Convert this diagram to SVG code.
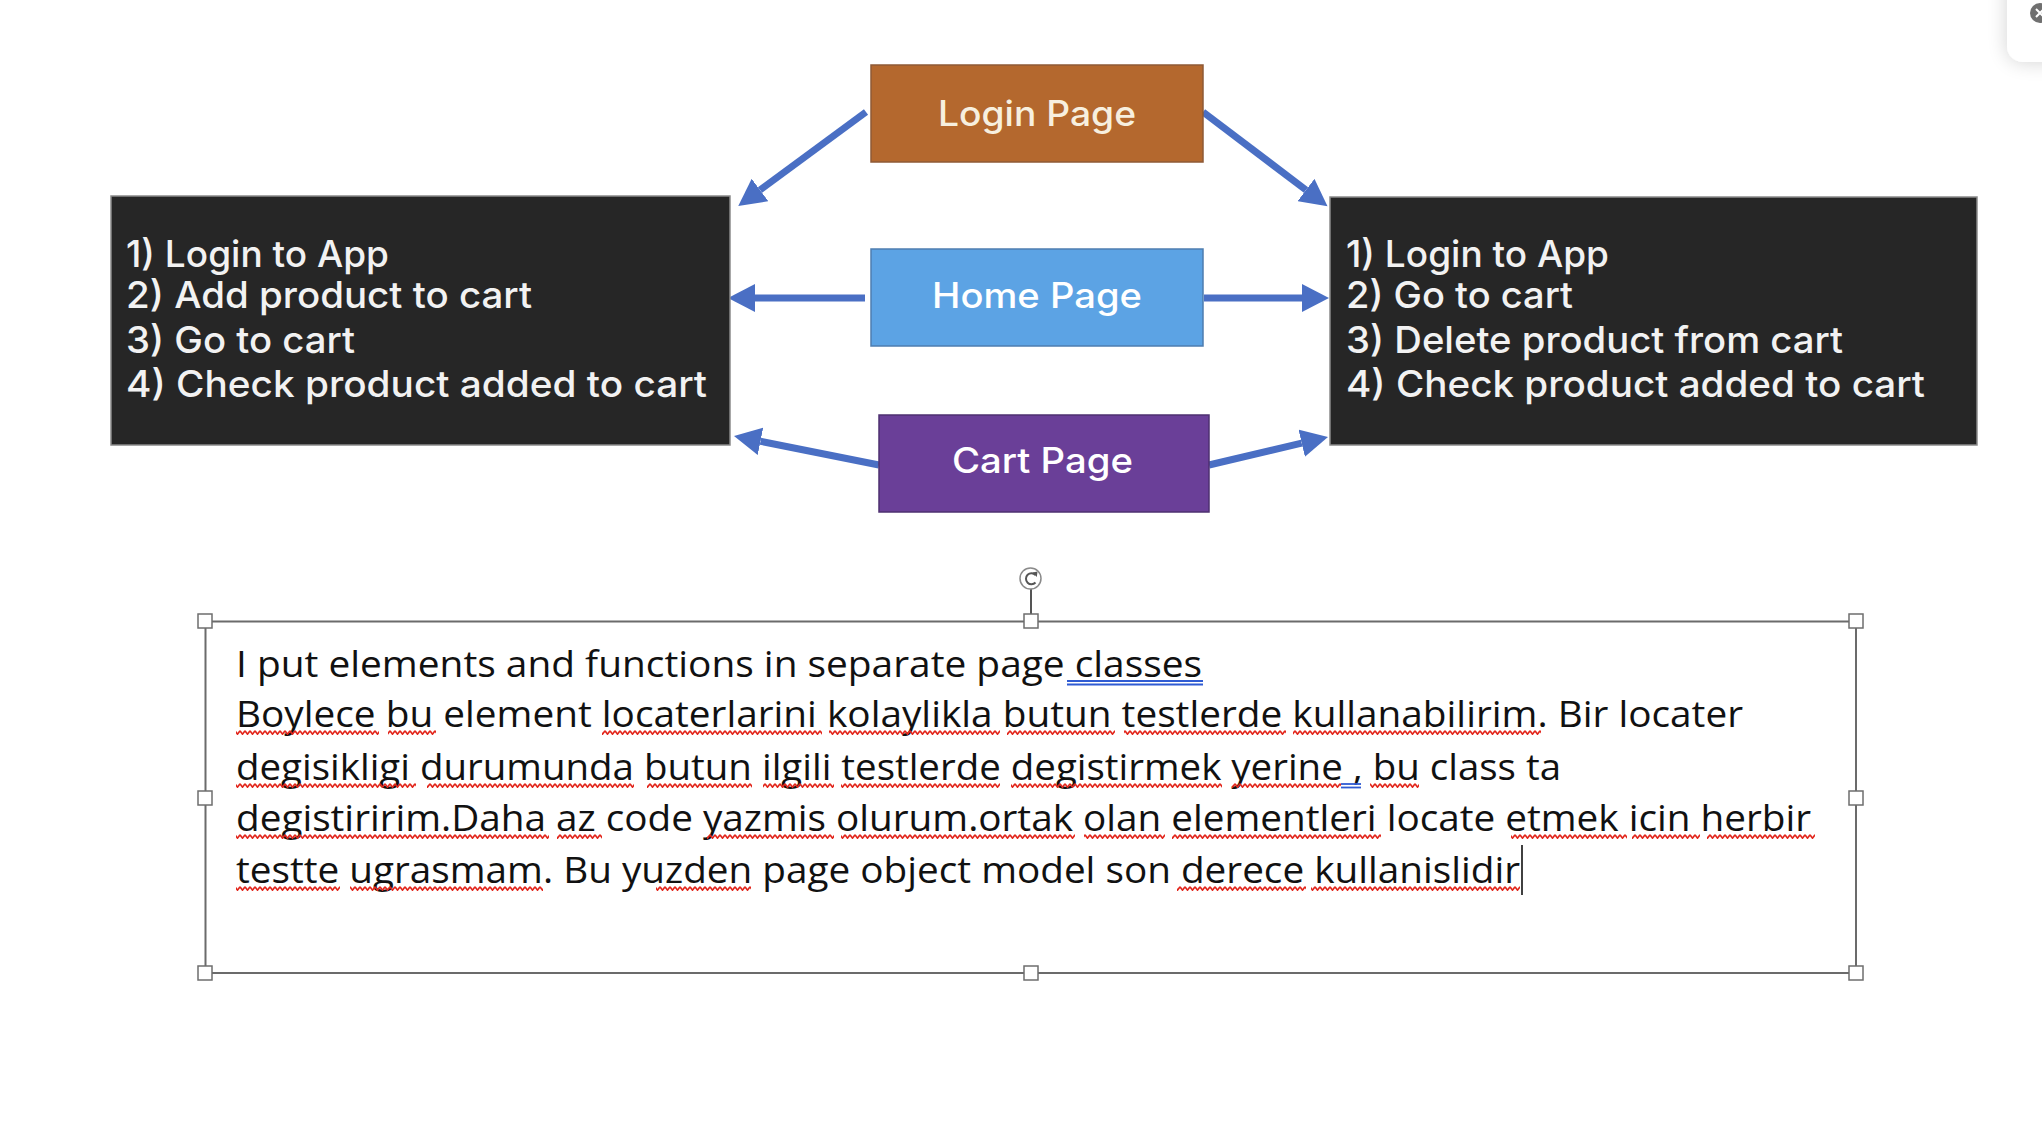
<svg xmlns="http://www.w3.org/2000/svg" width="2042" height="1128" viewBox="0 0 2042 1128">
  <style>
    .step { font-family: "Inter", "Open Sans", "Liberation Sans", sans-serif; font-size: 37px; font-weight: 500; fill: #F2F2F2; }
    .lbl { font-family: "Inter", "Open Sans", "Liberation Sans", sans-serif; font-size: 35px; font-weight: 500; fill: #FFFFFF; }
    .body { font-family: "Open Sans", "Liberation Sans", sans-serif; font-size: 37px; fill: #111111; }
    .conn { stroke: #4A6FC4; stroke-width: 7; fill: none; marker-end: url(#ah); }
    .dark { fill: #262626; stroke: #8A8A8A; stroke-width: 1.5; }
    .handle { fill: #FFFFFF; stroke: #6E6E6E; stroke-width: 1.5; }
  </style>
  <defs>
    <marker id="ah" viewBox="0 0 28 28" markerWidth="28" markerHeight="28" refX="0" refY="14" orient="auto" markerUnits="userSpaceOnUse">
      <path d="M0,0 L27,14 L0,28 Z" fill="#4A6FC4"/>
    </marker>
    <pattern id="wavy" patternUnits="userSpaceOnUse" width="5" height="5">
      <path d="M0,0.8 L2.5,4.2 L5,0.8" fill="none" stroke="#E2261C" stroke-width="1.6"/>
    </pattern>
    <filter id="sh" x="-100%" y="-100%" width="300%" height="300%">
      <feGaussianBlur in="SourceAlpha" stdDeviation="10"/>
      <feComponentTransfer><feFuncA type="linear" slope="0.18"/></feComponentTransfer>
      <feMerge><feMergeNode/><feMergeNode in="SourceGraphic"/></feMerge>
    </filter>
  </defs>

  <rect x="0" y="0" width="2042" height="1128" fill="#FFFFFF"/>

  <!-- connectors -->
  <g id="connectors">
    <line class="conn" x1="866" y1="112" x2="760" y2="190"/>
    <line class="conn" x1="1203" y1="112" x2="1306" y2="190"/>
    <line class="conn" x1="865" y1="298" x2="755" y2="298"/>
    <line class="conn" x1="1204" y1="298" x2="1302" y2="298"/>
    <line class="conn" x1="879" y1="465" x2="760.5" y2="441.3"/>
    <line class="conn" x1="1209" y1="465" x2="1301.7" y2="443.2"/>
  </g>

  <g id="login-page">
    <rect x="871" y="65" width="332" height="97" fill="#B4682E" stroke="#8E5A36" stroke-width="1.5"/>
    <text class="lbl" x="938" y="126" textLength="198" lengthAdjust="spacingAndGlyphs" style="fill:#F7EFDF">Login Page</text>
  </g>

  <g id="home-page">
    <rect x="871" y="249" width="332" height="97" fill="#5CA3E4" stroke="#4D7DB0" stroke-width="1.5"/>
    <text class="lbl" x="932" y="308" textLength="210" lengthAdjust="spacingAndGlyphs">Home Page</text>
  </g>

  <g id="cart-page">
    <rect x="879" y="415" width="330" height="97" fill="#6A3F98" stroke="#4E3170" stroke-width="1.5"/>
    <text class="lbl" x="952" y="473" textLength="181" lengthAdjust="spacingAndGlyphs">Cart Page</text>
  </g>

  <g id="add-to-cart-steps">
    <rect class="dark" x="111" y="196" width="619" height="249"/>
    <text class="step" x="126" y="267" textLength="263" lengthAdjust="spacingAndGlyphs">1) Login to App</text>
    <text class="step" x="126" y="308" textLength="406" lengthAdjust="spacingAndGlyphs">2) Add product to cart</text>
    <text class="step" x="126" y="352.5" textLength="229" lengthAdjust="spacingAndGlyphs">3) Go to cart</text>
    <text class="step" x="126" y="397" textLength="581" lengthAdjust="spacingAndGlyphs">4) Check product added to cart</text>
  </g>

  <g id="delete-from-cart-steps">
    <rect class="dark" x="1330" y="197" width="647" height="248"/>
    <text class="step" x="1346" y="267" textLength="263" lengthAdjust="spacingAndGlyphs">1) Login to App</text>
    <text class="step" x="1346" y="308" textLength="227" lengthAdjust="spacingAndGlyphs">2) Go to cart</text>
    <text class="step" x="1346" y="352.5" textLength="497" lengthAdjust="spacingAndGlyphs">3) Delete product from cart</text>
    <text class="step" x="1346" y="397" textLength="579" lengthAdjust="spacingAndGlyphs">4) Check product added to cart</text>
  </g>

  <g id="note-textbox">
    <rect x="205.5" y="621.5" width="1650.5" height="351.5" fill="none" stroke="#6B6B6B" stroke-width="2"/>
    <line x1="1031" y1="589" x2="1031" y2="614" stroke="#555555" stroke-width="2"/>
    <circle cx="1030.5" cy="578.5" r="10.5" fill="#FFFFFF" stroke="#8A8A8A" stroke-width="1.5"/>
    <path d="M1035.5,575 A5.5,5.5 0 1 0 1035.5,582.5" fill="none" stroke="#555555" stroke-width="2"/>
    <path d="M1032.5,572.5 L1037.5,571.5 L1036.8,577 Z" fill="#555555"/>
    <rect class="handle" x="198" y="614" width="14" height="14"/>
    <rect class="handle" x="1024" y="614" width="14" height="14"/>
    <rect class="handle" x="1849" y="614" width="14" height="14"/>
    <rect class="handle" x="198" y="791" width="14" height="14"/>
    <rect class="handle" x="1849" y="791" width="14" height="14"/>
    <rect class="handle" x="198" y="966" width="14" height="14"/>
    <rect class="handle" x="1024" y="966" width="14" height="14"/>
    <rect class="handle" x="1849" y="966" width="14" height="14"/>

    <text class="body" x="236" y="677" textLength="966" lengthAdjust="spacingAndGlyphs">I put elements and functions in separate page classes</text>
    <text class="body" x="236" y="727" textLength="1507" lengthAdjust="spacingAndGlyphs">Boylece bu element locaterlarini kolaylikla butun testlerde kullanabilirim. Bir locater</text>
    <text class="body" x="236" y="780" textLength="1325" lengthAdjust="spacingAndGlyphs">degisikligi durumunda butun ilgili testlerde degistirmek yerine , bu class ta</text>
    <text class="body" x="236" y="831" textLength="1575" lengthAdjust="spacingAndGlyphs">degistiririm.Daha az code yazmis olurum.ortak olan elementleri locate etmek icin herbir</text>
    <text class="body" x="236" y="883" textLength="1284" lengthAdjust="spacingAndGlyphs">testte ugrasmam. Bu yuzden page object model son derece kullanislidir</text>

    <!-- grammar marks -->
    <g stroke="#2F5BD3" stroke-width="1.8">
      <line x1="1067" y1="681" x2="1203" y2="681"/>
      <line x1="1067" y1="684.5" x2="1203" y2="684.5"/>
      <line x1="1341" y1="784" x2="1361" y2="784"/>
      <line x1="1341" y1="787.5" x2="1361" y2="787.5"/>
    </g>
    <!-- spelling marks -->
    <g transform="translate(0,730)" fill="url(#wavy)">
      <rect x="236" y="0" width="143" height="5"/>
      <rect x="388" y="0" width="48" height="5"/>
      <rect x="602" y="0" width="220" height="5"/>
      <rect x="829" y="0" width="171" height="5"/>
      <rect x="1007" y="0" width="108" height="5"/>
      <rect x="1124" y="0" width="162" height="5"/>
      <rect x="1293" y="0" width="248" height="5"/>
    </g>
    <g transform="translate(0,783)" fill="url(#wavy)">
      <rect x="236" y="0" width="180" height="5"/>
      <rect x="427" y="0" width="207" height="5"/>
      <rect x="647" y="0" width="105" height="5"/>
      <rect x="763" y="0" width="71" height="5"/>
      <rect x="841" y="0" width="159" height="5"/>
      <rect x="1011" y="0" width="211" height="5"/>
      <rect x="1232" y="0" width="109" height="5"/>
      <rect x="1370" y="0" width="49" height="5"/>
    </g>
    <g transform="translate(0,834)" fill="url(#wavy)">
      <rect x="236" y="0" width="313" height="5"/>
      <rect x="557" y="0" width="45" height="5"/>
      <rect x="707" y="0" width="127" height="5"/>
      <rect x="841" y="0" width="234" height="5"/>
      <rect x="1084" y="0" width="81" height="5"/>
      <rect x="1172" y="0" width="209" height="5"/>
      <rect x="1511" y="0" width="116" height="5"/>
      <rect x="1632" y="0" width="68" height="5"/>
      <rect x="1707" y="0" width="108" height="5"/>
    </g>
    <g transform="translate(0,886)" fill="url(#wavy)">
      <rect x="236" y="0" width="104" height="5"/>
      <rect x="350" y="0" width="193" height="5"/>
      <rect x="656" y="0" width="95" height="5"/>
      <rect x="1177" y="0" width="129" height="5"/>
      <rect x="1311" y="0" width="209" height="5"/>
    </g>
    <line x1="1522" y1="845" x2="1522" y2="895" stroke="#111111" stroke-width="1.6"/>
  </g>

  <g id="corner-panel">
    <rect x="2007" y="-30" width="70" height="92" rx="16" fill="#FFFFFF" filter="url(#sh)"/>
    <circle cx="2040" cy="13" r="10" fill="#707070"/>
    <path d="M2036,9 L2044,17 M2044,9 L2036,17" stroke="#FFFFFF" stroke-width="2"/>
  </g>
</svg>
